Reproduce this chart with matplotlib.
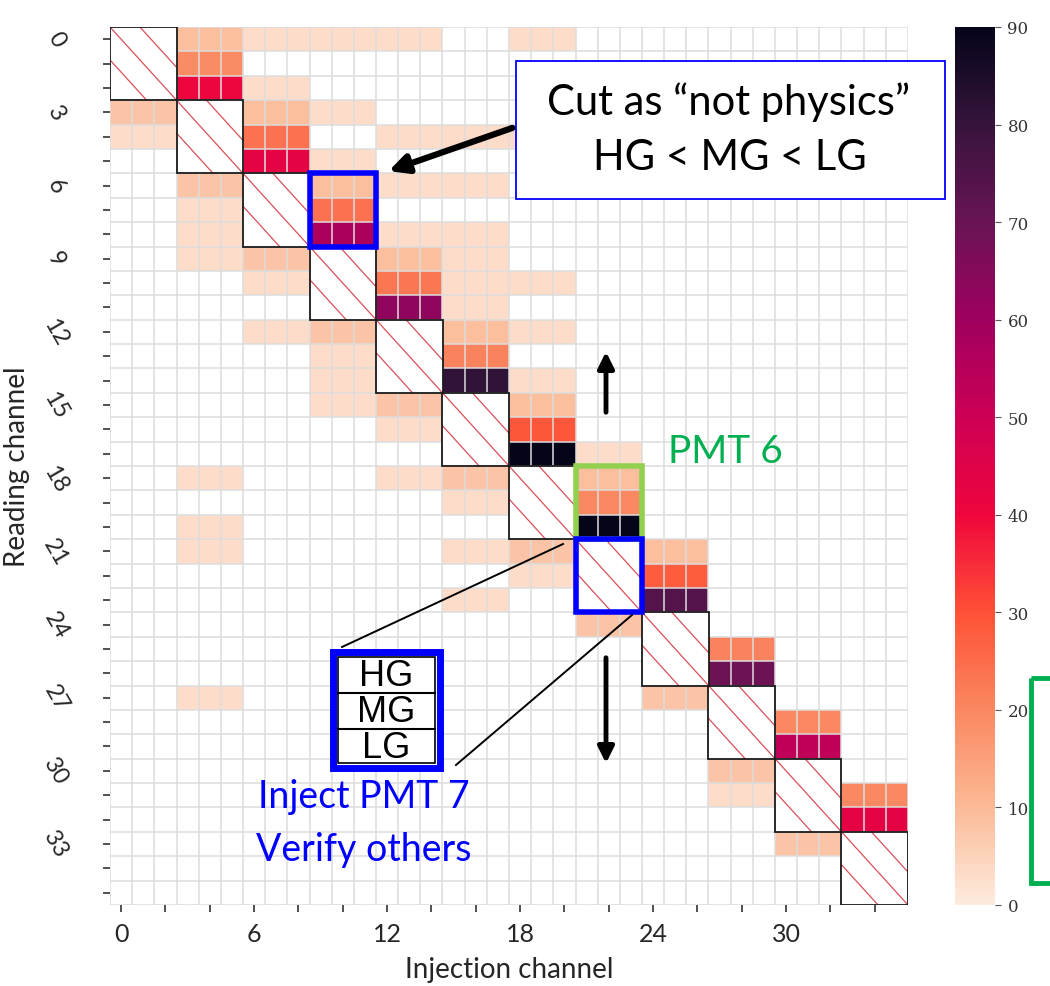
import numpy as np
import matplotlib.pyplot as plt
from matplotlib.colors import LinearSegmentedColormap
from matplotlib.patches import Rectangle, FancyArrowPatch
from matplotlib.lines import Line2D
from matplotlib.transforms import Affine2D

n_pmt = 12
n_gain = 3
n_ch = n_pmt * n_gain

# signal read on PMT k (HG, MG, LG rows) while injecting PMT k+1
xtalk_hg = [9, 9, 9, 9, 9, 9, 9, 9, 0, 0, 0]
xtalk_mg = [19, 24, 24, 23, 21, 29, 20, 28, 21, 20, 20]
xtalk_lg = [41, 43, 57, 63, 81, 90, 90, 74, 69, 53, 43]

# weaker leaks: (reading channel, injected PMT, value)
leaks = [
    (0, 2, 3), (0, 3, 3), (0, 4, 3), (0, 6, 3),
    (2, 2, 3),
    (3, 0, 8), (3, 3, 3),
    (4, 0, 3), (4, 4, 3), (4, 5, 3), (4, 6, 3),
    (5, 3, 3),
    (6, 1, 8), (6, 4, 3), (6, 5, 3),
    (7, 1, 3),
    (8, 1, 3), (8, 4, 3), (8, 5, 3),
    (9, 1, 3), (9, 2, 8), (9, 5, 3),
    (10, 2, 3), (10, 5, 3), (10, 6, 3),
    (11, 5, 3),
    (12, 2, 3), (12, 3, 8), (12, 6, 3),
    (13, 3, 3),
    (14, 3, 3), (14, 6, 3),
    (15, 3, 3), (15, 4, 8),
    (16, 4, 3),
    (17, 7, 3),
    (18, 1, 3), (18, 4, 3), (18, 5, 8),
    (19, 5, 3),
    (20, 1, 3),
    (21, 1, 3), (21, 5, 3), (21, 6, 8),
    (22, 6, 3),
    (23, 5, 3),
    (24, 7, 8),
    (27, 1, 3), (27, 8, 8),
    (30, 9, 8),
    (31, 9, 3),
    (33, 10, 8),
]

x_tick_pos = np.arange(0, n_ch, 2)
x_tick_lab = [str(i) if i % 6 == 0 else "" for i in x_tick_pos]
y_tick_pos = np.arange(n_ch)
y_tick_lab = [str(i) if i % 3 == 0 else "" for i in y_tick_pos]

# colour scale as it appears on the slide (rocket_r, saturated)
cmap_colors = ["#fdebde", "#fcb996", "#fa875f", "#ff5037", "#f0053c",
               "#cd0055", "#a0005f", "#691455", "#37143c", "#05051a"]

counts = np.zeros((n_ch, n_ch))
for k in range(n_pmt - 1):
    for g, vals in enumerate((xtalk_hg, xtalk_mg, xtalk_lg)):
        counts[3 * k + g, 3 * (k + 1):3 * (k + 2)] = vals[k]
for row, pmt, val in leaks:
    counts[row, 3 * pmt:3 * pmt + 3] = val
masked = np.ma.masked_where(counts <= 0, counts)

W, H = 1050, 987
fig = plt.figure(figsize=(W / 100, H / 100), dpi=100)
pix = Affine2D().scale(1 / W, -1 / H).translate(0, 1) + fig.transFigure

ax = fig.add_axes([110 / W, 1 - 906 / H, 798 / W, 878 / H])
cmap = LinearSegmentedColormap.from_list("slide_rocket_r", cmap_colors)
edges = np.arange(n_ch + 1)
mesh = ax.pcolormesh(edges, edges, masked, cmap=cmap, vmin=0, vmax=90, zorder=1)
ax.vlines(edges, 0, n_ch, color="#dcdcdc", lw=1.1, zorder=2)
ax.hlines(edges, 0, n_ch, color="#dcdcdc", lw=1.1, zorder=2)

# diagonal blocks (self injection) are excluded
for k in range(n_pmt):
    x0 = y0 = 3 * k
    ax.add_patch(Rectangle((x0, y0), 3, 3, facecolor="white", edgecolor="none", zorder=3))
    for d in (-1.35, 0.0, 1.35):
        if d >= 0:
            xs, ys = [x0 + d, x0 + 3], [y0, y0 + 3 - d]
        else:
            xs, ys = [x0, x0 + 3 + d], [y0 - d, y0 + 3]
        ax.plot(xs, ys, color="#d9505a", lw=0.9, zorder=4)
    ax.add_patch(Rectangle((x0, y0), 3, 3, fill=False, edgecolor="#1a1a1a", lw=1.3, zorder=5))

ax.set_xlim(0, n_ch)
ax.set_ylim(n_ch, 0)
for s in ax.spines.values():
    s.set_visible(False)
ax.set_xticks(x_tick_pos + 0.5)
ax.set_xticklabels(x_tick_lab, fontsize=18, family="Lato", color="#262626")
ax.set_yticks(y_tick_pos + 0.5)
ax.set_yticklabels(y_tick_lab, fontsize=17, family="Lato", color="#262626",
                   rotation=-60, ha="center", va="center")
ax.tick_params(axis="y", pad=34)
ax.tick_params(axis="x", pad=7)
ax.tick_params(length=5, width=1.2, color="#333333")
ax.set_xlabel("Injection channel", fontsize=20, family="Lato", color="#262626", labelpad=8)
ax.set_ylabel("Reading channel", fontsize=20, family="Lato", color="#262626")
ax.yaxis.set_label_coords(-0.1, 0.5)

cax = fig.add_axes([955 / W, 1 - 906 / H, 40 / W, 878 / H])
cbar = fig.colorbar(mesh, cax=cax, ticks=range(0, 91, 10))
cbar.outline.set_visible(False)
cax.tick_params(length=4, width=0.8, color="#555555", labelsize=12, pad=5)
for t in cax.get_yticklabels():
    t.set_family("DejaVu Serif")
    t.set_color("#333333")

# highlighted blocks
ax.add_patch(Rectangle((9, 6), 3, 3, fill=False, edgecolor="#0000ff", lw=4, zorder=6, clip_on=False))
ax.add_patch(Rectangle((21, 18), 3, 3, fill=False, edgecolor="#92d050", lw=4, zorder=6, clip_on=False))
ax.add_patch(Rectangle((21, 21), 3, 3, fill=False, edgecolor="#0000ff", lw=4, zorder=6, clip_on=False))

# "not physics" call-out
fig.add_artist(Rectangle((516, 62), 429, 138, transform=pix, facecolor="white",
                         edgecolor="#0000ff", lw=1.3))
fig.text(729, 102, "Cut as \u201cnot physics\u201d", transform=pix, fontsize=30, family="Lato",
         ha="center", va="center", color="black")
fig.text(730, 158, "HG < MG < LG", transform=pix, fontsize=30, family="Lato",
         ha="center", va="center", color="black")
fig.add_artist(FancyArrowPatch((515, 128), (386, 173), transform=pix, arrowstyle="-|>",
                               mutation_scale=28, lw=4.5, color="black"))

fig.text(668, 452, "PMT 6", transform=pix, fontsize=28, family="Lato",
         ha="left", va="center", color="#00b050")

fig.add_artist(FancyArrowPatch((606, 416), (606, 350), transform=pix, arrowstyle="-|>",
                               mutation_scale=24, lw=3.5, color="black"))
fig.add_artist(FancyArrowPatch((606, 656), (606, 767), transform=pix, arrowstyle="-|>",
                               mutation_scale=24, lw=3.5, color="black"))

# gain legend
fig.add_artist(Line2D([342, 563], [648, 545], transform=pix, color="black", lw=1.4))
fig.add_artist(Line2D([456, 632], [766, 616], transform=pix, color="black", lw=1.4))
fig.add_artist(Rectangle((333, 653), 107, 116, transform=pix, facecolor="white",
                         edgecolor="#0000ff", lw=5))
fig.add_artist(Rectangle((338, 658), 97, 106, transform=pix, fill=False,
                         edgecolor="black", lw=1.2))
for yy in (694, 730):
    fig.add_artist(Line2D([338, 435], [yy, yy], transform=pix, color="black", lw=1.5))
for lab, yy in (("HG", 676), ("MG", 712), ("LG", 748)):
    fig.text(386, yy, lab, transform=pix, fontsize=26, family="Liberation Sans",
             ha="center", va="center", color="black")

fig.text(364, 797, "Inject PMT 7", transform=pix, fontsize=27, family="Lato",
         ha="center", va="center", color="#0000ff")
fig.text(364, 850, "Verify others", transform=pix, fontsize=27, family="Lato",
         ha="center", va="center", color="#0000ff")

fig.add_artist(Rectangle((1031, 679), 60, 205, transform=pix, fill=False,
                         edgecolor="#00b050", lw=3.5))

fig.savefig("out.png", dpi=100)
